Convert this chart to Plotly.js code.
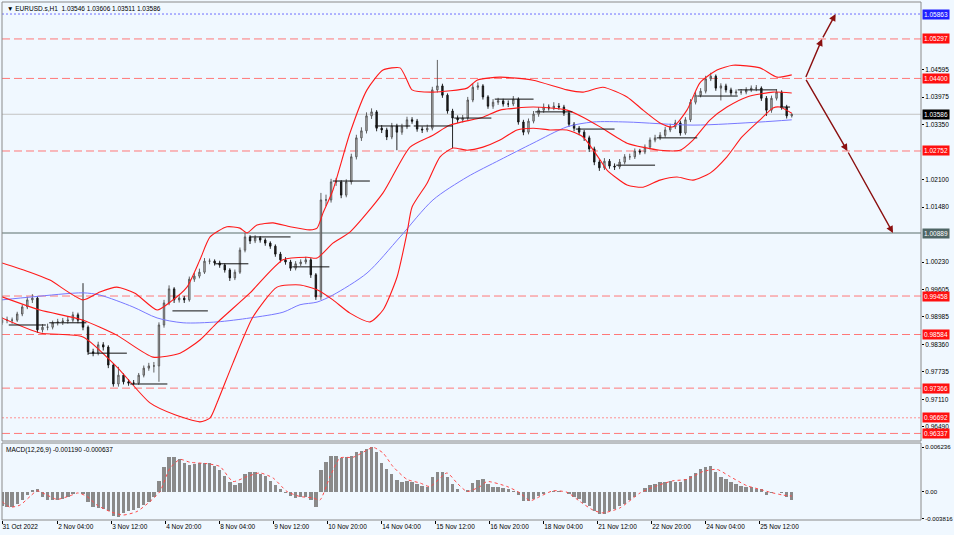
<!DOCTYPE html>
<html><head><meta charset="utf-8">
<script src="https://cdn.plot.ly/plotly-3.0.1.min.js"></script>
<style>html,body{margin:0;padding:0;background:#f0f8ff;}#chart{width:954px;height:535px;}</style>
</head><body><div id="chart"></div>
<script>
// ---------- DATA ----------
const candleOpen = [
0.9885,0.9891,0.9891,0.9891,0.9905,0.9921,0.9937,0.9941,0.9869,0.9875,
0.9875,0.9885,0.9887,0.9889,0.9891,0.9903,0.9891,0.9875,0.9819,0.9816,
0.9835,0.9830,0.9789,0.9746,0.9766,0.9751,0.9748,0.9748,0.9766,0.9782,
0.9787,0.9787,0.9880,0.9930,0.9962,0.9937,0.9941,0.9937,0.9984,0.9991,
1.0000,1.0025,1.0025,1.0021,1.0016,1.0005,0.9987,1.0000,1.0050,1.0080,
1.0071,1.0078,1.0073,1.0066,1.0059,1.0041,1.0028,1.0023,1.0009,1.0019,
1.0023,1.0028,0.9994,0.9944,1.0164,1.0164,1.0205,1.0205,1.0175,1.0205,
1.0262,1.0305,1.0321,1.0355,1.0364,1.0327,1.0323,1.0307,1.0332,1.0318,
1.0330,1.0346,1.0343,1.0325,1.0323,1.0327,1.0414,1.0423,1.0402,1.0366,
1.0350,1.0346,1.0350,1.0391,1.0420,1.0423,1.0398,1.0377,1.0386,1.0389,
1.0382,1.0382,1.0393,1.0341,1.0318,1.0343,1.0359,1.0368,1.0375,1.0373,
1.0377,1.0375,1.0361,1.0336,1.0327,1.0318,1.0305,1.0280,1.0250,1.0237,
1.0252,1.0241,1.0239,1.0250,1.0262,1.0262,1.0275,1.0273,1.0284,1.0300,
1.0305,1.0311,1.0323,1.0330,1.0339,1.0316,1.0346,1.0386,1.0402,1.0411,
1.0439,1.0445,1.0418,1.0423,1.0414,1.0407,1.0409,1.0409,1.0414,1.0418,
1.0418,1.0395,1.0368,1.0395,1.0409,1.0375,1.0355];
const candleHigh = [
0.9898,0.9899,0.9897,0.9910,0.9926,0.9944,0.9950,0.9946,0.9882,0.9883,
0.9890,0.9894,0.9896,0.9899,0.9910,0.9908,0.9975,0.9879,0.9826,0.9842,
0.9841,0.9834,0.9793,0.9785,0.9770,0.9757,0.9755,0.9771,0.9788,0.9794,
0.9796,0.9886,0.9937,0.9970,0.9966,0.9948,0.9946,0.9990,0.9998,1.0008,
1.0032,1.0031,1.0029,1.0026,1.0020,1.0009,1.0006,1.0056,1.0089,1.0084,
1.0084,1.0082,1.0077,1.0070,1.0063,1.0046,1.0034,1.0028,1.0025,1.0029,
1.0035,1.0032,0.9998,1.0180,1.0176,1.0212,1.0214,1.0209,1.0211,1.0269,
1.0312,1.0329,1.0363,1.0372,1.0368,1.0334,1.0328,1.0339,1.0337,1.0337,
1.0353,1.0352,1.0348,1.0331,1.0335,1.0421,1.0482,1.0428,1.0406,1.0371,
1.0356,1.0357,1.0398,1.0428,1.0431,1.0427,1.0402,1.0393,1.0396,1.0394,
1.0390,1.0400,1.0397,1.0346,1.0349,1.0366,1.0375,1.0383,1.0381,1.0386,
1.0384,1.0380,1.0366,1.0341,1.0332,1.0323,1.0310,1.0285,1.0256,1.0259,
1.0257,1.0247,1.0257,1.0268,1.0269,1.0281,1.0280,1.0290,1.0306,1.0312,
1.0318,1.0330,1.0337,1.0346,1.0344,1.0352,1.0393,1.0409,1.0418,1.0446,
1.0453,1.0449,1.0429,1.0428,1.0419,1.0415,1.0416,1.0420,1.0424,1.0425,
1.0422,1.0400,1.0401,1.0416,1.0413,1.0380,1.03606];
const candleLow = [
0.9880,0.9884,0.9883,0.9887,0.9900,0.9916,0.9930,0.9862,0.9863,0.9868,
0.9870,0.9879,0.9880,0.9883,0.9886,0.9884,0.9868,0.9812,0.9809,0.9811,
0.9822,0.9782,0.9740,0.9740,0.9745,0.9742,0.9743,0.9744,0.9761,0.9776,
0.9772,0.9751,0.9874,0.9925,0.9930,0.9931,0.9930,0.9933,0.9978,0.9986,
0.9996,1.0018,1.0015,1.0010,0.9999,0.9980,0.9982,0.9996,1.0045,1.0064,
1.0066,1.0067,1.0060,1.0053,1.0035,1.0022,1.0017,1.0003,1.0004,1.0014,
1.0018,0.9987,0.9937,0.9937,1.0150,1.0158,1.0196,1.0168,1.0170,1.0199,
1.0256,1.0298,1.0315,1.0348,1.0320,1.0316,1.0300,1.0302,1.0277,1.0312,
1.0325,1.0337,1.0319,1.0316,1.0318,1.0322,1.0408,1.0396,1.0360,1.0282,
1.0339,1.0340,1.0345,1.0386,1.0414,1.0392,1.0371,1.0371,1.0380,1.0376,
1.0375,1.0377,1.0335,1.0311,1.0313,1.0338,1.0353,1.0362,1.0367,1.0368,
1.0369,1.0355,1.0330,1.0320,1.0311,1.0298,1.0273,1.0243,1.0230,1.0232,
1.0235,1.0232,1.0234,1.0245,1.0255,1.0257,1.0267,1.0268,1.0279,1.0295,
1.0300,1.0306,1.0318,1.0325,1.0310,1.0312,1.0341,1.0381,1.0397,1.0406,
1.0434,1.0412,1.0390,1.0408,1.0401,1.0402,1.0403,1.0404,1.0409,1.0411,
1.0389,1.0355,1.0362,1.0390,1.0369,1.0349,1.03511];
const candleClose = [
0.9891,0.9891,0.9891,0.9905,0.9921,0.9937,0.9941,0.9869,0.9875,0.9875,
0.9885,0.9887,0.9889,0.9891,0.9903,0.9891,0.9875,0.9819,0.9816,0.9835,
0.9830,0.9789,0.9746,0.9766,0.9751,0.9748,0.9748,0.9766,0.9782,0.9787,
0.9787,0.9880,0.9930,0.9962,0.9937,0.9941,0.9937,0.9984,0.9991,1.0000,
1.0025,1.0025,1.0021,1.0016,1.0005,0.9987,1.0000,1.0050,1.0080,1.0071,
1.0078,1.0073,1.0066,1.0059,1.0041,1.0028,1.0023,1.0009,1.0019,1.0023,
1.0028,0.9994,0.9944,1.0164,1.0164,1.0205,1.0205,1.0175,1.0205,1.0262,
1.0305,1.0321,1.0355,1.0364,1.0327,1.0323,1.0307,1.0332,1.0318,1.0330,
1.0346,1.0343,1.0325,1.0323,1.0327,1.0414,1.0423,1.0402,1.0366,1.0350,
1.0346,1.0350,1.0391,1.0420,1.0423,1.0398,1.0377,1.0386,1.0389,1.0382,
1.0382,1.0393,1.0341,1.0318,1.0343,1.0359,1.0368,1.0375,1.0373,1.0377,
1.0375,1.0361,1.0336,1.0327,1.0318,1.0305,1.0280,1.0250,1.0237,1.0252,
1.0241,1.0239,1.0250,1.0262,1.0262,1.0275,1.0273,1.0284,1.0300,1.0305,
1.0311,1.0323,1.0330,1.0339,1.0316,1.0346,1.0386,1.0402,1.0411,1.0439,
1.0445,1.0418,1.0423,1.0414,1.0407,1.0409,1.0409,1.0414,1.0418,1.0418,
1.0395,1.0368,1.0395,1.0409,1.0375,1.0355,1.03586];
const macdHist = [
-0.0021,-0.0022,-0.0022,-0.0017,-0.0012,-0.0005,0.0002,0.0003,-0.0007,-0.0012,
-0.0012,-0.0012,-0.0010,-0.0007,-0.0004,-0.0001,-0.0003,-0.0015,-0.0022,-0.0023,
-0.0025,-0.0028,-0.0034,-0.0036,-0.0030,-0.0028,-0.0026,-0.0023,-0.0019,-0.0015,
-0.0007,0.0015,0.0035,0.0049,0.0048,0.0045,0.0040,0.0037,0.0039,0.0040,
0.0040,0.0040,0.0036,0.0030,0.0022,0.0014,0.0009,0.0012,0.0025,0.0027,
0.0027,0.0025,0.0022,0.0015,0.0009,0.0004,-0.0002,-0.0006,-0.0009,-0.0008,
-0.0008,-0.0012,-0.0022,0.0030,0.0042,0.0050,0.0050,0.0047,0.0048,0.0050,
0.0055,0.0057,0.0060,0.0063,0.0055,0.0040,0.0032,0.0025,0.0016,0.0014,
0.0015,0.0013,0.0010,0.0008,0.0007,0.0020,0.0027,0.0028,0.0021,0.0010,
0.0004,0.0000,0.0002,0.0012,0.0016,0.0017,0.0010,0.0007,0.0006,0.0005,
0.0003,0.0001,-0.0005,-0.0013,-0.0014,-0.0010,-0.0006,-0.0003,0.0000,0.0001,
0.0001,-0.0001,-0.0003,-0.0007,-0.0011,-0.0016,-0.0021,-0.0027,-0.0032,-0.0031,
-0.0027,-0.0024,-0.0021,-0.0017,-0.0012,-0.0007,-0.0001,0.0005,0.0009,0.0011,
0.0013,0.0014,0.0015,0.0014,0.0014,0.0017,0.0022,0.0026,0.0031,0.0034,
0.0036,0.0028,0.0021,0.0018,0.0014,0.0011,0.0008,0.0007,0.0006,0.0004,
0.0003,-0.0005,-0.0002,-0.0001,-0.0002,-0.0007,-0.00119];

const signalX = [0,4.7,10.7,16.6,20.7,26.7,32.6,40.3,45,50.4,56.3,64,71.7,80,87.7,93.6,99.6,105.5,111.4,121.5,129.2,136.9,145.2,152.9,160.6,168.9,176.6,184.3,188.4,194.4,200.3,208,216.3,219.9,225.8,231.7,240,247.7,253.6,263.7,269.6,275.6,283.3,287.4,299.3,307,312.9,318.8,326.5,334.8,342.5,350.2,356.1,366.2,378.1,388.1,397.6,405.9,415.4,423.7,431.4,441.5,449.2,455.1,462.8,468];
const signalVal = [-0.0014,-0.0022,-0.0019,-0.0007,0.0001,-0.0005,-0.0011,-0.0006,-0.0002,-0.0007,-0.0019,-0.0028,-0.0033,-0.0028,-0.0014,0,0.0033,0.0045,0.0041,0.0039,0.0035,0.0014,0.0021,0.0026,0.0019,0,-0.0007,-0.0009,-0.0012,0.0021,0.0047,0.0048,0.0058,0.0062,0.0054,0.0035,0.0017,0.0012,0.0007,0.0026,0.0012,0,0.0007,0.0014,0.0007,-0.0002,-0.0013,-0.0007,0.0001,-0.0001,-0.0014,-0.0026,-0.0030,-0.0023,-0.0002,0.0008,0.0015,0.0017,0.0028,0.0031,0.0021,0.0008,0.0003,-0.0001,-0.0005,-0.000637];

const bbUpperX = [0,16.6,28.4,48,58,68,78.8,91.9,99.6,109.6,117.3,123.3,133.3,141,145.2,151.1,160.6,170.7,182.5,186.7,190.2,196.1,206.2,216.3,225.8,235.9,240,243,255.4,275.6,281.5,295.1,314.7,334.8,344.3,356.1,370.4,379.9,389.9,397.6,405.9,413.6,423.7,433.2,449.2,459.3,468];
const bbUpperY = [1.0021,1.0000,0.9982,0.9937,0.9955,0.9966,0.9952,0.9914,0.9932,0.9966,1.0028,1.0080,1.0103,1.0100,1.0089,1.0107,1.0112,1.0103,1.0096,1.0100,1.0134,1.0186,1.0316,1.0414,1.0459,1.0464,1.0436,1.0414,1.0409,1.0418,1.0436,1.0443,1.0436,1.0414,1.0409,1.0420,1.0398,1.0368,1.0339,1.0330,1.0368,1.0430,1.0459,1.0470,1.0464,1.0443,1.0448];
const bbMidX = [0,22.5,48,68,89.5,105.5,117.3,127.4,147,166.5,180.7,186.7,196.1,206.2,225.8,241.8,255.4,265.5,285,295.1,314.7,334.8,344.3,354.4,370.4,389.9,401.8,409.5,419.6,429.6,441.5,456.9,468];
const bbMidY = [0.9944,0.9914,0.9891,0.9857,0.9807,0.9816,0.9846,0.9885,0.9953,1.0028,1.0034,1.0032,1.0066,1.0091,1.0180,1.0284,1.0311,1.0334,1.0352,1.0368,1.0375,1.0368,1.0352,1.0330,1.0293,1.0277,1.0277,1.0300,1.0346,1.0375,1.0398,1.0409,1.0407];
const bbLowerX = [0,22.5,48,68,87.7,102.5,117.3,123.3,127.4,136.9,148.7,163,176.6,186.7,196.1,206.2,218.1,225.8,234.1,240,243,251.9,259.6,267.3,275.6,285,295.1,305.2,314.7,324.7,334.8,344.3,354.4,358.5,370.4,379.9,389.9,400,409.5,419.6,429.6,438.5,449.2,456.9,461,468];
const bbLowerY = [0.9896,0.9862,0.9853,0.9785,0.9703,0.9676,0.9660,0.9669,0.9703,0.9794,0.9898,0.9966,0.9971,0.9960,0.9937,0.9907,0.9887,0.9914,0.9989,1.0089,1.0148,1.0202,1.0262,1.0282,1.0277,1.0284,1.0300,1.0323,1.0327,1.0323,1.0323,1.0307,1.0255,1.0232,1.0198,1.0193,1.0209,1.0216,1.0209,1.0225,1.0262,1.0307,1.0346,1.0373,1.0375,1.0361];
const maX = [0,18.4,48,58,77.6,91.9,107.3,127.4,147,166.5,176.6,186.7,196.1,216.3,235.9,255.4,275.6,295.1,314.7,334.8,350.2,370.4,409.5,449.2,468];
const maY = [0.9937,0.9944,0.9953,0.9948,0.9921,0.9896,0.9885,0.9887,0.9896,0.9909,0.9926,0.9932,0.9948,0.9998,1.0080,1.0164,1.0216,1.0255,1.0293,1.0330,1.0341,1.0341,1.0334,1.0341,1.0346];

const dayOpenStart = [4,28,51,76,101,126,147,172,196,221,244,268,292,316,340,364,388,412,436,461];
const dayOpenEnd   = [26,50,74,98,122,146,171,194,218,242,267,290,315,338,363,387,412,436,459,467];
const dayOpenPrice = [0.9880,0.9885,0.9816,0.9746,0.9912,1.0019,1.0080,1.0012,1.0207,1.0332,1.0332,1.0350,1.0393,1.0364,1.0325,1.0243,1.0305,1.0400,1.0414,1.0375];

const dashedLevels = [1.05297,1.04400,1.02752,0.99458,0.98584,0.97366,0.96337];
const dottedLevel = 0.96692;
const blueLevel = 1.05863;
const grayLevel = 1.00889;
const currentPrice = 1.03586;

const arrowUpX = [476,486,494];
const arrowUpY = [1.04400,1.05297,1.05863];
const arrowDownX = [476,501,528];
const arrowDownY = [1.04400,1.02752,1.00889];

const priceTicks = [1.04595,1.03975,1.03350,1.02100,1.01480,1.00230,0.99605,0.98985,0.98360,0.97735,0.97110,0.96490];
const priceTickText = ['1.04595','1.03975','1.03350','1.02100','1.01480','1.00230','0.99605','0.98985','0.98360','0.97735','0.97110','0.96490'];
const macdTicks = [0.006236,0,-0.003816];
const macdTickText = ['0.006236','0.00','-0.003816'];
const timeTickIdx = [0,33,65,97,129,161,193,225,257,289,321,353,385,417,449];
const timeTickText = ['31 Oct 2022','2 Nov 04:00','3 Nov 12:00','4 Nov 20:00','8 Nov 04:00','9 Nov 12:00','10 Nov 20:00','14 Nov 04:00','15 Nov 12:00','16 Nov 20:00','18 Nov 04:00','21 Nov 12:00','22 Nov 20:00','24 Nov 04:00','25 Nov 12:00'];

const titleText = '\u25BC EURUSD.s,H1  1.03546 1.03606 1.03511 1.03586';
const macdText = 'MACD(12,26,9) -0.001190 -0.000637';

// ---------- DRAW ----------
const FONT = 'Liberation Sans, Arial, sans-serif';
const FS = 6.5;
const candleX = candleClose.map((_, k) => k * 3);

const segX = [], segY = [];
dayOpenStart.forEach((s, i) => { segX.push(s, dayOpenEnd[i], null); segY.push(dayOpenPrice[i], dayOpenPrice[i], null); });

const traces = [
  {type:'scatter', mode:'lines', x:maX, y:maY, line:{color:'#7878ff', width:1, shape:'spline', smoothing:0.8}, hoverinfo:'skip'},
  {type:'scatter', mode:'lines', x:bbUpperX, y:bbUpperY, line:{color:'#ff1a1a', width:1.1, shape:'spline', smoothing:0.6}, hoverinfo:'skip'},
  {type:'scatter', mode:'lines', x:bbMidX, y:bbMidY, line:{color:'#ff1a1a', width:1.1, shape:'spline', smoothing:0.6}, hoverinfo:'skip'},
  {type:'scatter', mode:'lines', x:bbLowerX, y:bbLowerY, line:{color:'#ff1a1a', width:1.1, shape:'spline', smoothing:0.6}, hoverinfo:'skip'},
  {type:'scatter', mode:'lines', x:segX, y:segY, line:{color:'#111', width:1}, connectgaps:false, hoverinfo:'skip'},
  {type:'candlestick', x:candleX, open:candleOpen, high:candleHigh, low:candleLow, close:candleClose,
   increasing:{line:{color:'#505050', width:0.9}, fillcolor:'#c8c8c8'},
   decreasing:{line:{color:'#111111', width:0.9}, fillcolor:'#222222'},
   whiskerwidth:0, hoverinfo:'skip'},
  {type:'bar', x:candleX, y:macdHist, xaxis:'x', yaxis:'y2', width:2, marker:{color:'#8a8a8a', line:{width:0}}, hoverinfo:'skip'},
  {type:'scatter', mode:'lines', x:signalX, y:signalVal, xaxis:'x', yaxis:'y2', line:{color:'#ff4a4a', width:1, dash:'dot', shape:'spline', smoothing:0.6}, hoverinfo:'skip'}
];

const shapes = [];
dashedLevels.forEach(v => shapes.push({type:'line', layer:'below', xref:'paper', x0:0, x1:1, yref:'y', y0:v, y1:v, line:{color:'#ff7878', width:1, dash:'8px,4px'}}));
shapes.push({type:'line', layer:'below', xref:'paper', x0:0, x1:1, yref:'y', y0:dottedLevel, y1:dottedLevel, line:{color:'#ff9090', width:1, dash:'2px,2px'}});
shapes.push({type:'line', layer:'below', xref:'paper', x0:0, x1:1, yref:'y', y0:blueLevel, y1:blueLevel, line:{color:'#6f6fff', width:1, dash:'2px,2px'}});
shapes.push({type:'line', layer:'below', xref:'paper', x0:0, x1:1, yref:'y', y0:grayLevel, y1:grayLevel, line:{color:'#8d9c9c', width:1.4}});
shapes.push({type:'line', layer:'below', xref:'paper', x0:0, x1:1, yref:'y', y0:currentPrice, y1:currentPrice, line:{color:'#c4c4c4', width:1}});
shapes.push({type:'rect', xref:'paper', yref:'y domain', x0:0, x1:1, y0:0, y1:1, line:{color:'#8a8a8a', width:1}});
shapes.push({type:'rect', xref:'paper', yref:'y2 domain', x0:0, x1:1, y0:0, y1:1, line:{color:'#8a8a8a', width:1}});

const annotations = [];
function tag(v, bg) {
  annotations.push({xref:'paper', x:1, xanchor:'left', xshift:1, yref:'y', y:v, yanchor:'middle', text:v.toFixed(5),
    showarrow:false, bgcolor:bg, borderpad:1, font:{family:FONT, size:FS, color:'#ffffff'}});
}
dashedLevels.forEach(v => tag(v, '#ff1010'));
tag(dottedLevel, '#ff1010');
tag(blueLevel, '#1f1fff');
tag(grayLevel, '#4f6666');
tag(currentPrice, '#000000');

function arrowPath(xs, ys) {
  for (let i = 1; i < xs.length; i++) {
    annotations.push({xref:'x', yref:'y', axref:'x', ayref:'y', x:xs[i], y:ys[i], ax:xs[i-1], ay:ys[i-1],
      text:'', showarrow:true, arrowhead:2, arrowsize:1, arrowwidth:1.4, arrowcolor:'#8b1010', standoff:0, startstandoff:0});
  }
}
arrowPath(arrowUpX, arrowUpY);
arrowPath(arrowDownX, arrowDownY);

annotations.push({xref:'paper', x:0, xanchor:'left', xshift:3, yref:'paper', y:1, yanchor:'top', yshift:-1,
  text:titleText, showarrow:false, font:{family:FONT, size:FS, color:'#000'}});
annotations.push({xref:'paper', x:0, xanchor:'left', xshift:2, yref:'y2 domain', y:1, yanchor:'top', yshift:-1,
  text:macdText, showarrow:false, font:{family:FONT, size:FS, color:'#000'}});

const layout = {
  width:954, height:535,
  margin:{l:2, r:33, t:2, b:15, pad:0},
  paper_bgcolor:'#f0f8ff', plot_bgcolor:'#f0f8ff',
  showlegend:false, hovermode:false, bargap:0, boxgap:0.6,
  font:{family:FONT, size:FS, color:'#000'},
  xaxis:{anchor:'y2', range:[0, 544.6], rangeslider:{visible:false}, showgrid:false, zeroline:false,
    tickvals:timeTickIdx, ticktext:timeTickText, ticks:'outside', ticklen:3, tickcolor:'#000',
    ticklabelposition:'outside right', tickfont:{family:FONT, size:FS, color:'#000'}, showline:false, fixedrange:true},
  yaxis:{domain:[0.1525, 1], range:[0.96165, 1.06136], side:'right', showgrid:false, zeroline:false,
    tickvals:priceTicks, ticktext:priceTickText, ticks:'outside', ticklen:2, tickcolor:'#000',
    tickfont:{family:FONT, size:FS, color:'#000'}, fixedrange:true},
  yaxis2:{domain:[0, 0.1486], range:[-0.003994, 0.006797], side:'right', showgrid:false, zeroline:false,
    tickvals:macdTicks, ticktext:macdTickText, ticks:'outside', ticklen:2, tickcolor:'#000',
    tickfont:{family:FONT, size:6.1, color:'#000'}, fixedrange:true},
  shapes:shapes, annotations:annotations
};

Plotly.newPlot('chart', traces, layout, {staticPlot:true, displayModeBar:false});
</script></body></html>
